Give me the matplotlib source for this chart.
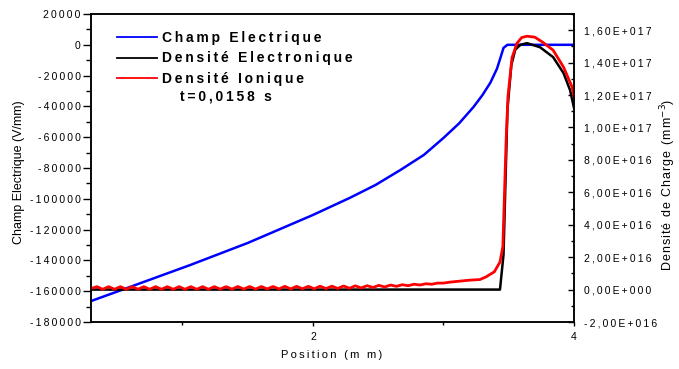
import math
import numpy as np
import matplotlib
matplotlib.use("Agg")
import matplotlib.pyplot as plt
from matplotlib.ticker import MultipleLocator, FuncFormatter

plt.rcParams['font.family'] = ['Liberation Sans', 'DejaVu Sans']

# --- Electric field profile (V/mm) along the gap (mm) ---
field_pos = [0.30, 0.60, 1.06, 1.50, 2.00, 2.28, 2.48, 2.67, 2.85, 3.00,
             3.12, 3.23, 3.30, 3.36, 3.41, 3.44, 3.46, 3.49, 4.00]
field_val = [-166400, -157200, -143000, -128700, -110500, -99500, -91000,
             -81300, -71500, -60500, -51000, -40400, -32500, -24500, -15500,
             -7500, -2000, 0, 0]

# --- Electron density (mm^-3) ---
elec_pos = [0.30, 3.433, 3.46, 3.49, 3.52, 3.55, 3.59, 3.64, 3.74, 3.84,
            3.92, 3.97, 4.00]
elec_val = [0.0, 0.0, 2.15e16, 1.11e17, 1.385e17, 1.48e17, 1.51e17, 1.52e17,
            1.495e17, 1.434e17, 1.335e17, 1.23e17, 1.12e17]

# --- Ion density (mm^-3) ---
ion_pos = [0.300, 0.345, 0.390, 0.435, 0.480, 0.525, 0.570, 0.615, 0.660,
           0.705, 0.750, 0.795, 0.840, 0.885, 0.930, 0.975, 1.020, 1.065,
           1.110, 1.155, 1.200, 1.245, 1.290, 1.335, 1.380, 1.425, 1.470,
           1.515, 1.560, 1.605, 1.650, 1.695, 1.740, 1.785, 1.830, 1.875,
           1.920, 1.965, 2.010, 2.055, 2.100, 2.145, 2.190, 2.235, 2.280,
           2.325, 2.370, 2.415, 2.460, 2.505, 2.550, 2.595, 2.640, 2.685,
           2.730, 2.775, 2.820, 2.865, 2.910, 2.955, 3.000,
           3.05, 3.10, 3.15, 3.20, 3.28, 3.33, 3.39, 3.433, 3.455, 3.48,
           3.494, 3.525, 3.563, 3.60, 3.64, 3.70, 3.76, 3.84, 3.92, 3.985,
           4.00]
ion_val = [0.6e15, 1.8e15, 0.2e15, 1.8e15, 0.2e15, 1.8e15, 0.2e15, 1.8e15,
           0.2e15, 1.8e15, 0.2e15, 1.8e15, 0.2e15, 1.8e15, 0.2e15, 1.8e15,
           0.2e15, 1.8e15, 0.2e15, 1.8e15, 0.2e15, 1.8e15, 0.3e15, 1.8e15,
           0.3e15, 1.9e15, 0.3e15, 1.9e15, 0.3e15, 1.9e15, 0.4e15, 1.9e15,
           0.4e15, 2.0e15, 0.4e15, 2.0e15, 0.5e15, 2.0e15, 0.5e15, 2.1e15,
           0.6e15, 2.1e15, 0.7e15, 2.2e15, 0.8e15, 2.3e15, 1.0e15, 2.4e15,
           1.3e15, 2.6e15, 1.6e15, 2.8e15, 2.0e15, 3.0e15, 2.4e15, 3.3e15,
           2.8e15, 3.6e15, 3.3e15, 4.0e15, 4.0e15,
           4.6e15, 5.0e15, 5.4e15, 5.8e15, 6.2e15, 8.0e15, 1.1e16, 1.7e16,
           2.65e16, 9.2e16, 1.19e17, 1.43e17, 1.52e17, 1.555e17, 1.563e17,
           1.557e17, 1.526e17, 1.477e17, 1.372e17, 1.25e17, 1.19e17]

x_limits = (0.30, 4.0)
field_limits = (-180000, 20000)
density_limits = (-2e16, 1.7e17)

label_field = "Champ Electrique"
label_elec = "Densité Electronique"
label_ion = "Densité Ionique"
time_note = "t=0,0158 s"

SP = "\u2009"
HAIR = "\u200a"


def spaced(s, sep=SP):
    return sep.join(s)


def fmt_field(v, _pos=None):
    return spaced(f"{int(round(v))}")


def fmt_density(v, _pos=None):
    if abs(v) < 1e3:
        s = "0,00E+000"
    else:
        e = int(math.floor(math.log10(abs(v)) + 1e-9))
        m = v / 10 ** e
        s = f"{m:.2f}".replace(".", ",") + ("E+" if e >= 0 else "E-") + f"{abs(e):03d}"
    return spaced(s)


fig = plt.figure(figsize=(6.79, 3.69), dpi=100)
ax = fig.add_axes([91 / 679, 1 - 322 / 369, (574 - 91) / 679, (322 - 14) / 369])
ax2 = ax.twinx()

ax.plot(field_pos, field_val, color="#0000ff", lw=1.8, label=label_field)
ax2.plot(elec_pos, elec_val, color="black", lw=1.8, label=label_elec)
ax2.plot(ion_pos, ion_val, color="#ff0000", lw=2.0, label=label_ion)

ax.set_xlim(*x_limits)
ax.set_ylim(*field_limits)
ax2.set_ylim(*density_limits)

for a in (ax, ax2):
    for sp in a.spines.values():
        sp.set_linewidth(1.1)

ax.xaxis.set_major_locator(MultipleLocator(2))
ax.xaxis.set_minor_locator(MultipleLocator(1))
ax.xaxis.set_major_formatter(FuncFormatter(lambda v, p: f"{v:g}"))
ax.yaxis.set_major_locator(MultipleLocator(20000))
ax.yaxis.set_minor_locator(MultipleLocator(10000))
ax.yaxis.set_major_formatter(FuncFormatter(fmt_field))
ax2.yaxis.set_major_locator(MultipleLocator(2e16))
ax2.yaxis.set_minor_locator(MultipleLocator(1e16))
ax2.yaxis.set_major_formatter(FuncFormatter(fmt_density))

ax.tick_params(axis="x", which="major", direction="out", length=3.2, width=1.0,
               pad=4, labelsize=7.5)
ax.tick_params(axis="x", which="minor", direction="out", length=2.0, width=1.0)
ax.tick_params(axis="y", which="major", direction="out", length=6, width=1.0,
               pad=1.5, labelsize=7.5)
ax.tick_params(axis="y", which="minor", direction="out", length=3.5, width=1.0)
ax2.tick_params(axis="y", which="major", direction="in", length=4.5, width=1.0,
                pad=7.5, labelsize=7.5)
ax2.tick_params(axis="y", which="minor", direction="in", length=2.5, width=1.0)

fig.text(19 / 679, 0.534, "Champ Electrique (V/mm)", rotation=90,
         ha="center", va="center", fontsize=9)
fig.text(668 / 679, 0.50, spaced("Densité de Charge (mm", HAIR) + "$^{-3}$)",
         rotation=90, ha="center", va="center", fontsize=9)
fig.text(332 / 679, 1 - 355 / 369, spaced("Position (m m)"),
         ha="center", va="center", fontsize=8)

h1, l1 = ax.get_legend_handles_labels()
h2, l2 = ax2.get_legend_handles_labels()
leg = ax2.legend(h1 + h2, [spaced(t) for t in l1 + l2], loc="upper left",
                 bbox_to_anchor=(0.054, 0.944), frameon=False, borderpad=0,
                 borderaxespad=0, handlelength=2.9, handletextpad=0.35,
                 labelspacing=0.45, prop={"weight": "bold", "size": 10})
for ln in leg.get_lines():
    ln.set_linewidth(1.3)

ax2.text((180 - 91) / 483, (322 - 97) / 308, spaced(time_note),
         transform=ax2.transAxes, ha="left", va="center",
         fontsize=10, fontweight="bold")

fig.savefig("out.png", dpi=100)
